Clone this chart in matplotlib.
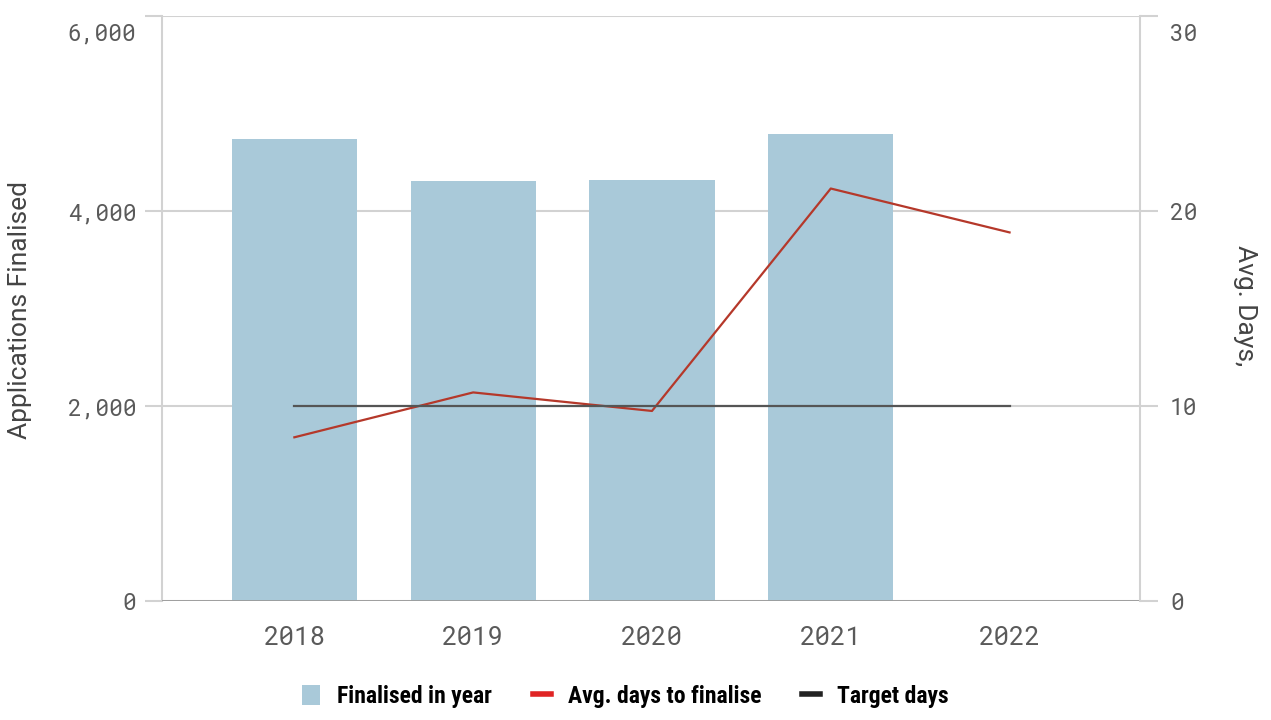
import matplotlib.pyplot as plt
from matplotlib.patches import Patch
from matplotlib.lines import Line2D
from matplotlib.transforms import ScaledTranslation
import numpy as np

# data
years = ["2018", "2019", "2020", "2021", "2022"]
finalised = [4740, 4310, 4320, 4790, 0]
avg_days = [8.4, 10.7, 9.75, 21.15, 18.9]
target_days = [10, 10, 10, 10, 10]
left_ticks = [0, 2000, 4000, 6000]
right_ticks = [0, 10, 20, 30]

bar_color = "#a9c9d9"
line_color = "#b5382a"
target_color = "#555555"
grid_color = "#d2d2d2"
tick_color = "#5a5a5a"
mono = "Roboto Mono"

fig = plt.figure(figsize=(12.71, 7.2), dpi=100)
ax = fig.add_axes([0.1275, 0.165, 0.7695, 0.813])
ax2 = ax.twinx()

x = np.arange(len(years))
ax.bar(x, finalised, width=0.7, color=bar_color, zorder=2)
ax2.plot(x, avg_days, color=line_color, linewidth=1.6, zorder=3)
ax2.plot(x, target_days, color=target_color, linewidth=1.6, zorder=3)

ax.set_xlim(-0.74, 4.73)
ax.set_ylim(0, 6000)
ax2.set_ylim(0, 30)
ax.set_yticks(left_ticks)
ax2.set_yticks(right_ticks)
ax.set_yticklabels([f"{v:,}" for v in left_ticks], family=mono, fontweight="light")
ax2.set_yticklabels([str(v) for v in right_ticks], family=mono, fontweight="light")
ax.set_xticks(x)
ax.set_xticklabels(years, family=mono, fontweight="light")

ax.grid(axis="y", color=grid_color, linewidth=1.5, zorder=0)
ax.set_axisbelow(True)

for a in (ax, ax2):
    for s in a.spines.values():
        s.set_visible(False)
ax.spines["left"].set_visible(True)
ax.spines["left"].set_color(grid_color)
ax.spines["left"].set_linewidth(1.5)
ax2.spines["right"].set_visible(True)
ax2.spines["right"].set_color(grid_color)
ax2.spines["right"].set_linewidth(1.5)
ax.axhline(0, color="#9a9a9a", linewidth=2, zorder=4)

ax.tick_params(axis="y", length=12, width=1.5, color=grid_color, pad=6.5,
               labelsize=16.5, labelcolor=tick_color)
ax2.tick_params(axis="y", length=13, width=1.5, color=grid_color, pad=8.5,
                labelsize=16.5, labelcolor=tick_color)
ax.tick_params(axis="x", length=0, pad=18, labelsize=18.5, labelcolor=tick_color)

# top tick labels sit a little below their gridline
shift = ScaledTranslation(0, -16 / 100, fig.dpi_scale_trans)
for t in (ax.yaxis.get_major_ticks()[-1], ax2.yaxis.get_major_ticks()[-1]):
    t.label1.set_transform(t.label1.get_transform() + shift)
    t.label2.set_transform(t.label2.get_transform() + shift)

ax.set_ylabel("Applications Finalised", family="Roboto", fontsize=19,
              color="#444444", va="center")
ax.yaxis.set_label_coords(-0.145, 0.497)
ax2.set_ylabel("Avg. Days,", family="Roboto", fontsize=19,
               color="#444444", rotation=270, va="center")
ax2.yaxis.set_label_coords(1.107, 0.505)

handles = [
    Patch(facecolor=bar_color, edgecolor="none"),
    Line2D([0], [0], color="#e02424", linewidth=4),
    Line2D([0], [0], color="#222222", linewidth=4),
]
labels = ["Finalised in year", "Avg. days to finalise", "Target days"]
fig.legend(handles, labels, loc="center", bbox_to_anchor=(0.492, 0.033),
           ncol=3, frameon=False, handlelength=0.75, handleheight=0.95,
           columnspacing=1.75, handletextpad=0.72,
           prop={"family": "Roboto Condensed", "weight": "bold", "size": 17})

fig.savefig("out.png", dpi=100)
